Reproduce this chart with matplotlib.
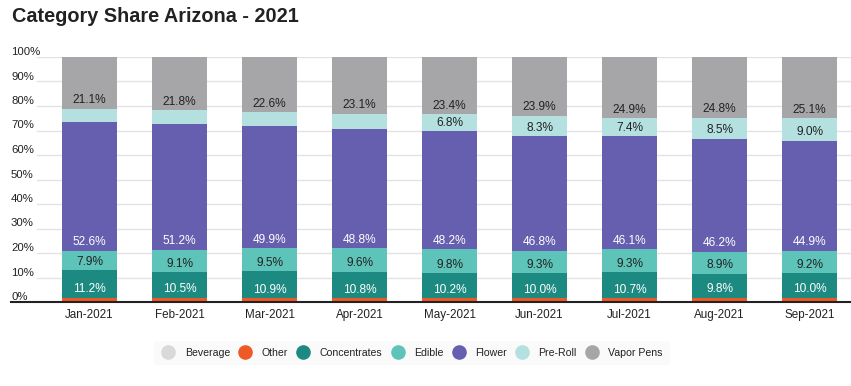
import matplotlib
matplotlib.use("Agg")
import matplotlib.pyplot as plt
from matplotlib.lines import Line2D
import numpy as np

months = ["Jan-2021", "Feb-2021", "Mar-2021", "Apr-2021", "May-2021",
          "Jun-2021", "Jul-2021", "Aug-2021", "Sep-2021"]
categories = ["Beverage", "Other", "Concentrates", "Edible", "Flower", "Pre-Roll", "Vapor Pens"]

beverage     = [0.2, 0.2, 0.2, 0.2, 0.2, 0.2, 0.2, 0.2, 0.2]
other        = [1.6, 1.6, 1.4, 1.4, 1.4, 1.5, 1.4, 1.6, 1.6]
concentrates = [11.2, 10.5, 10.9, 10.8, 10.2, 10.0, 10.7, 9.8, 10.0]
edible       = [7.9, 9.1, 9.5, 9.6, 9.8, 9.3, 9.3, 8.9, 9.2]
flower       = [52.6, 51.2, 49.9, 48.8, 48.2, 46.8, 46.1, 46.2, 44.9]
pre_roll     = [5.4, 5.6, 5.5, 6.1, 6.8, 8.3, 7.4, 8.5, 9.0]
vapor_pens   = [21.1, 21.8, 22.6, 23.1, 23.4, 23.9, 24.9, 24.8, 25.1]

yticks = [0, 10, 20, 30, 40, 50, 60, 70, 80, 90, 100]
ytick_labels = [f"{v}%" for v in yticks]

series = [beverage, other, concentrates, edible, flower, pre_roll, vapor_pens]
colors = ["#d9d9d9", "#ee5a26", "#1d8a81", "#5ec4b9", "#665eae", "#b4e1df", "#a6a6a8"]
label_colors = [None, None, "white", "#222222", "white", "#222222", "#222222"]

plt.rcParams['font.family'] = ['Liberation Sans', 'DejaVu Sans']

W, H = 851, 386
fig = plt.figure(figsize=(W / 100, H / 100), dpi=100)
ax_left, ax_right = 11, 851
ax_bottom, ax_top = 302, 57
ax = fig.add_axes([ax_left / W, (H - ax_bottom) / H,
                   (ax_right - ax_left) / W, (ax_bottom - ax_top) / H])

x = np.arange(len(months))
bottom = np.zeros(len(months))
for name, vals, col, lc in zip(categories, series, colors, label_colors):
    vals = np.array(vals)
    ax.bar(x, vals, 0.61, bottom=bottom, color=col, zorder=2, linewidth=0)
    if lc is not None:
        for xi, b, v in zip(x, bottom, vals):
            if v >= 6.5:
                ax.annotate(f"{v:.1f}%", (xi, b), xytext=(0, 6), textcoords="offset points",
                            ha="center", va="center", fontsize=8.6, color=lc, zorder=3)
    bottom += vals

ax.set_xlim(-0.872, 8.46)
ax.set_ylim(0, 100)

grid_start = (37 - ax_left) / (ax_right - ax_left)
for yv in yticks[1:]:
    ax.axhline(yv, xmin=grid_start, xmax=1, color="#e3e3e3", linewidth=1, zorder=1)

for s in ["top", "right", "left"]:
    ax.spines[s].set_visible(False)
ax.spines["bottom"].set_color("#222222")
ax.spines["bottom"].set_linewidth(1.5)
ax.spines["bottom"].set_zorder(4)

ax.set_xticks(x)
ax.set_xticklabels(months, fontsize=8.4, color="#222222")
ax.tick_params(axis="x", length=0, pad=5)
ax.set_yticks(yticks)
ax.set_yticklabels(ytick_labels, fontsize=8.2, color="#222222")
ax.tick_params(axis="y", length=0, pad=0)
for lbl in ax.get_yticklabels():
    lbl.set_horizontalalignment("left")
    lbl.set_verticalalignment("bottom")

fig.text(12 / W, 1 - 16 / H, "Category Share Arizona - 2021", fontsize=14.3,
         fontweight="bold", color="#222222", va="center", ha="left")

handles = [Line2D([0], [0], marker="o", linestyle="none", markersize=9.5,
                  markerfacecolor=c, markeredgecolor=c) for c in colors]
leg = fig.legend(handles, categories, loc="center", bbox_to_anchor=(0.484, 1 - 353 / H),
                 ncol=7, frameon=True, fontsize=7.6, handletextpad=0.85, columnspacing=0.75,
                 borderpad=0.7, handlelength=1.4)
leg.get_frame().set_facecolor("#f9f9f9")
leg.get_frame().set_edgecolor("none")
for t in leg.get_texts():
    t.set_color("#222222")

fig.savefig("out.png", dpi=100)
